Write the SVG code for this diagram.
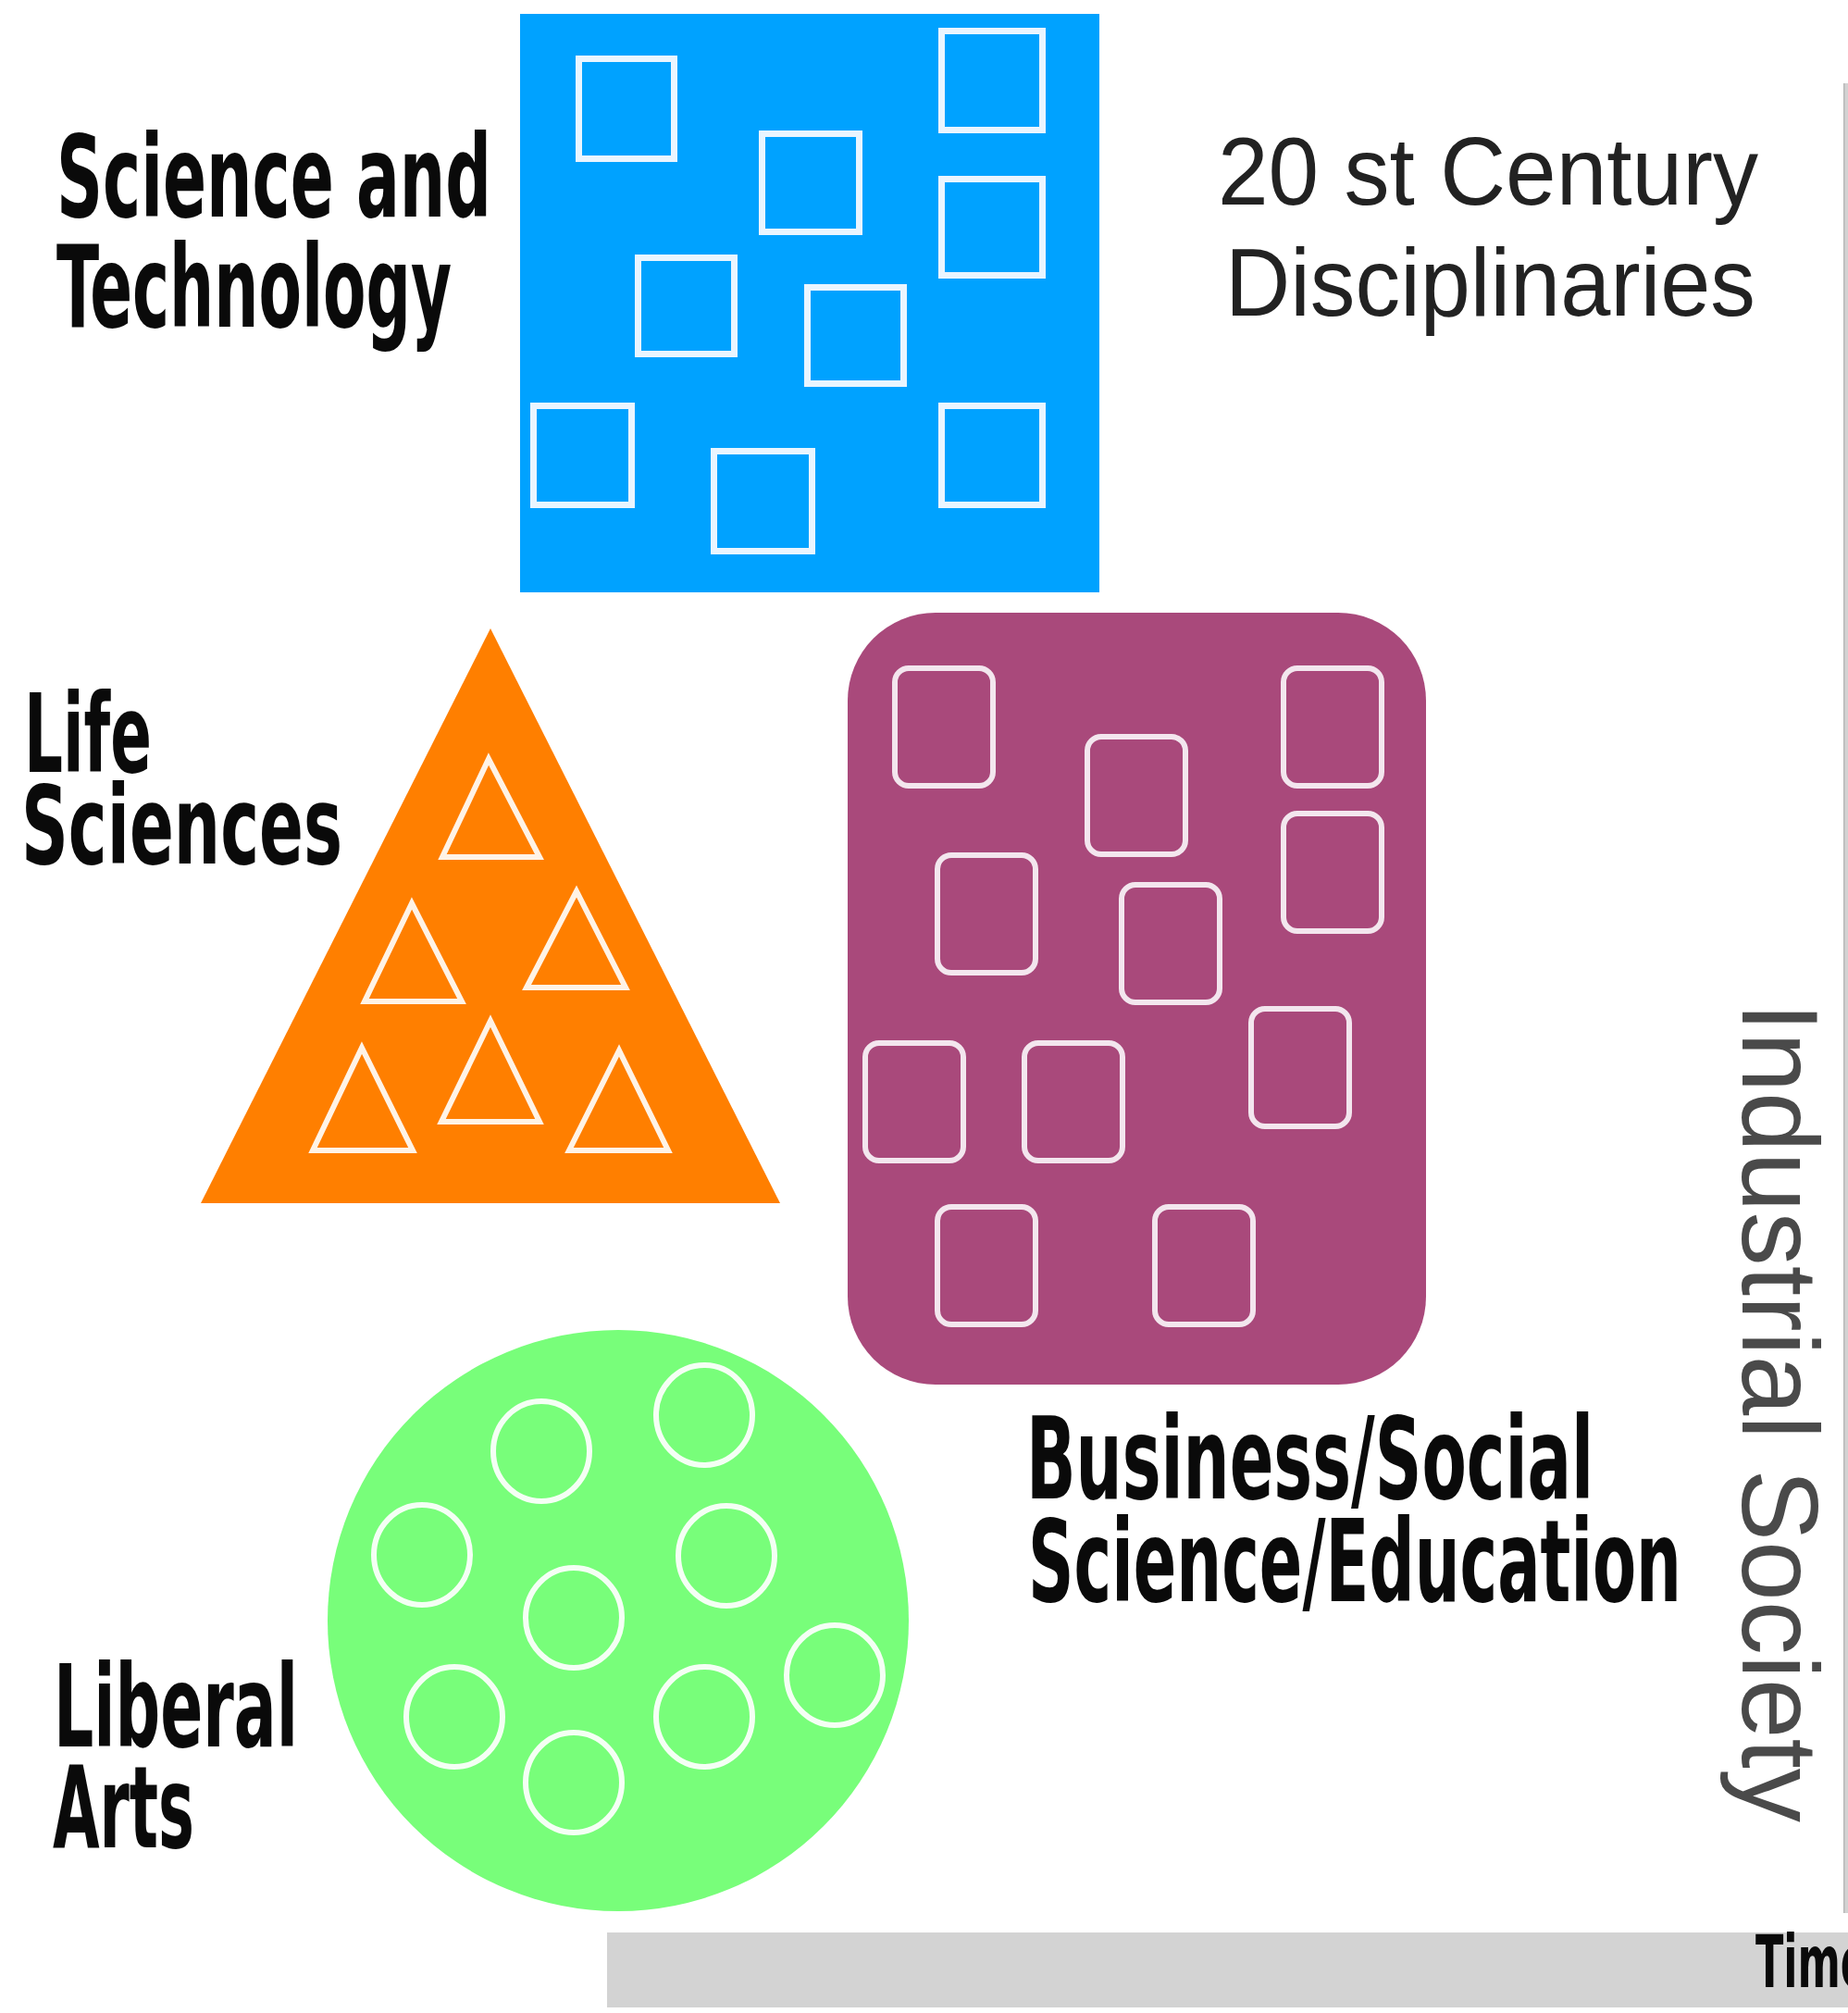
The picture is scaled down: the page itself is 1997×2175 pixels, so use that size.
<svg xmlns="http://www.w3.org/2000/svg" width="1997" height="2175" viewBox="0 0 1997 2175">
<style>
.lbl{font-family:"DejaVu Sans Condensed","DejaVu Sans","Liberation Sans",sans-serif;font-weight:bold;fill:#0a0a0a;}
.reg{font-family:"Liberation Sans","Arial",sans-serif;fill:#222;}
.sq{fill:none;stroke:#eaf5ff;stroke-width:7;}
.tri{fill:none;stroke:#fff3e6;stroke-width:6;stroke-linejoin:miter;}
.rr{fill:none;stroke:#f3e6ee;stroke-width:6;}
.ci{fill:none;stroke:#f4fff4;stroke-width:6;}
</style>
<rect width="1997" height="2175" fill="#ffffff"/>
<g id="axes">
<rect x="1992" y="90" width="5" height="1977" fill="#d2d2d2"/>
<rect x="1992" y="90" width="1.5" height="1977" fill="#b8b8b8"/>
<rect x="656" y="2088" width="1341" height="81" fill="#d3d3d3"/>
<text class="lbl" x="1897" y="2147" font-size="78" textLength="122" lengthAdjust="spacingAndGlyphs">Time</text>
</g>
<g id="connectors"></g>
<g id="science-technology">
<rect x="562" y="15" width="626" height="625" fill="#00a2ff"/>
<rect class="sq" x="625.5" y="63.5" width="103" height="108"/>
<rect class="sq" x="823.5" y="144.5" width="105" height="106"/>
<rect class="sq" x="689.5" y="278.5" width="104" height="104"/>
<rect class="sq" x="872.5" y="310.5" width="104" height="104"/>
<rect class="sq" x="576.5" y="438.5" width="106" height="107"/>
<rect class="sq" x="771.5" y="487.5" width="106" height="108"/>
<rect class="sq" x="1017.5" y="33.5" width="109" height="107"/>
<rect class="sq" x="1017.5" y="193.5" width="109" height="104"/>
<rect class="sq" x="1017.5" y="438.5" width="109" height="107"/>
<text class="lbl" x="61" y="234" font-size="123" textLength="470" lengthAdjust="spacingAndGlyphs">Science and</text>
<text class="lbl" x="61" y="353" font-size="123" textLength="427" lengthAdjust="spacingAndGlyphs">Technology</text>
</g>
<g id="title">
<text class="reg" x="1316" y="221" font-size="103" textLength="584" lengthAdjust="spacingAndGlyphs">20 st Century</text>
<text class="reg" x="1324" y="341" font-size="103" textLength="573" lengthAdjust="spacingAndGlyphs">Disciplinaries</text>
</g>
<g id="life-sciences">
<polygon points="530,679 217,1300 843,1300" fill="#ff7f00"/>
<polygon class="tri" points="528,820 478,926 583,926"/>
<polygon class="tri" points="445,976 394,1082 499,1082"/>
<polygon class="tri" points="623,963 569,1067 676,1067"/>
<polygon class="tri" points="391,1132 338,1243 446,1243"/>
<polygon class="tri" points="530,1103 477,1212 583,1212"/>
<polygon class="tri" points="669,1135 615,1243 722,1243"/>
<text class="lbl" x="26" y="834" font-size="117" textLength="138" lengthAdjust="spacingAndGlyphs">Life</text>
<text class="lbl" x="23" y="933" font-size="117" textLength="347" lengthAdjust="spacingAndGlyphs">Sciences</text>
</g>
<g id="business-social-education">
<rect x="916" y="662" width="625" height="834" rx="95" ry="95" fill="#a9497b"/>
<rect class="rr" x="967" y="722" width="106" height="127" rx="15"/>
<rect class="rr" x="1175" y="796" width="106" height="127" rx="15"/>
<rect class="rr" x="1387" y="722" width="106" height="127" rx="15"/>
<rect class="rr" x="1387" y="879" width="106" height="127" rx="15"/>
<rect class="rr" x="1013" y="924" width="106" height="127" rx="15"/>
<rect class="rr" x="1212" y="956" width="106" height="127" rx="15"/>
<rect class="rr" x="1352" y="1090" width="106" height="127" rx="15"/>
<rect class="rr" x="935" y="1127" width="106" height="127" rx="15"/>
<rect class="rr" x="1107" y="1127" width="106" height="127" rx="15"/>
<rect class="rr" x="1013" y="1304" width="106" height="127" rx="15"/>
<rect class="rr" x="1248" y="1304" width="106" height="127" rx="15"/>
<text class="lbl" x="1109" y="1619" font-size="123" textLength="613" lengthAdjust="spacingAndGlyphs">Business/Social</text>
<text class="lbl" x="1111" y="1730" font-size="123" textLength="706" lengthAdjust="spacingAndGlyphs">Science/Education</text>
</g>
<g id="liberal-arts">
<circle cx="668" cy="1751" r="314" fill="#78fe7a"/>
<ellipse class="ci" cx="585" cy="1568" rx="52" ry="54"/>
<ellipse class="ci" cx="761" cy="1529" rx="52" ry="54"/>
<ellipse class="ci" cx="456" cy="1680" rx="52" ry="54"/>
<ellipse class="ci" cx="785" cy="1681" rx="52" ry="54"/>
<ellipse class="ci" cx="620" cy="1748" rx="52" ry="54"/>
<ellipse class="ci" cx="902" cy="1810" rx="52" ry="54"/>
<ellipse class="ci" cx="491" cy="1855" rx="52" ry="54"/>
<ellipse class="ci" cx="761" cy="1855" rx="52" ry="54"/>
<ellipse class="ci" cx="620" cy="1926" rx="52" ry="54"/>
<text class="lbl" x="58" y="1887" font-size="123" textLength="264" lengthAdjust="spacingAndGlyphs">Liberal</text>
<text class="lbl" x="57" y="1996" font-size="123" textLength="153" lengthAdjust="spacingAndGlyphs">Arts</text>
</g>
<g id="industrial-society">
<text class="reg" transform="translate(1883,1083) rotate(90)" font-size="117" fill="#4a4a4a" style="fill:#4a4a4a" textLength="886" lengthAdjust="spacingAndGlyphs">Industrial Society</text>
</g>
</svg>
